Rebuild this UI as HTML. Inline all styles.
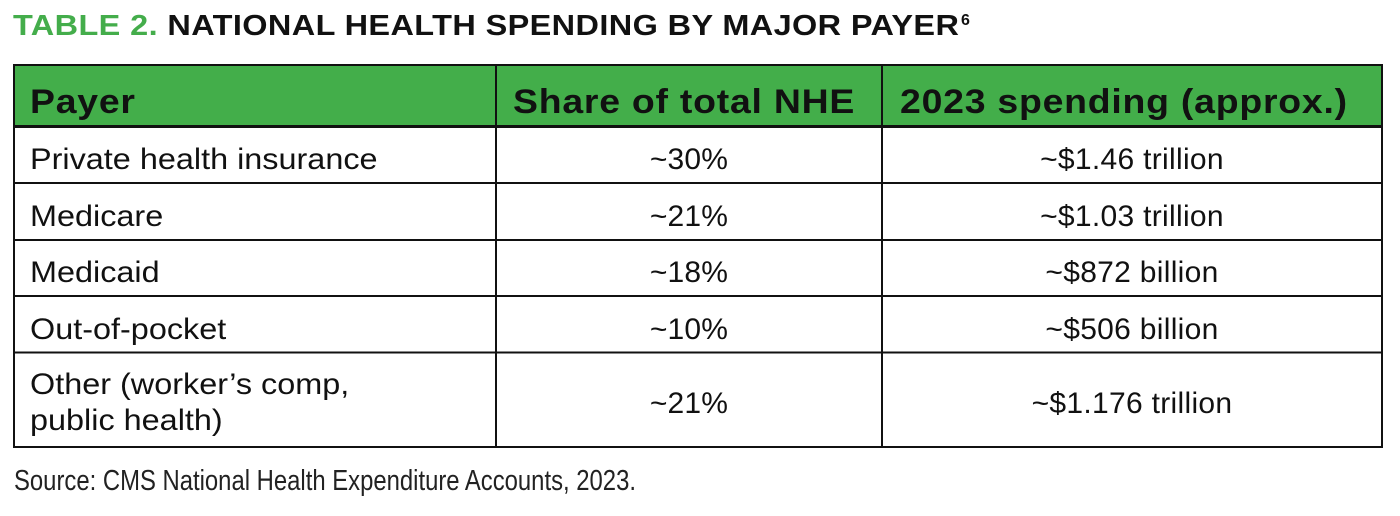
<!DOCTYPE html>
<html>
<head>
<meta charset="utf-8">
<style>
  html,body{margin:0;padding:0;background:#fff;}
  body{width:1400px;height:516px;overflow:hidden;}
  svg{display:block;}
  text{font-family:"Liberation Sans", Arial, sans-serif;fill:#111;}
  .t{font-weight:bold;font-size:29px;letter-spacing:0.35px;}
  .h{font-weight:bold;font-size:34px;letter-spacing:0.7px;}
  .b1{font-size:30px;letter-spacing:0px;}
  .b2{font-size:30px;letter-spacing:0.2px;}
  .b3{font-size:30px;letter-spacing:0.3px;}
  .src{font-size:29px;fill:#222;}
</style>
</head>
<body>
<svg width="1400" height="516" viewBox="0 0 1400 516" xmlns="http://www.w3.org/2000/svg">
  <rect x="0" y="0" width="1400" height="516" fill="#fff"/>
  <!-- Title -->
  <text class="t" transform="translate(13,35) scale(1.12,1)"><tspan style="fill:#44ad4b">TABLE 2.</tspan> NATIONAL HEALTH SPENDING BY MAJOR PAYER</text>
  <text x="961" y="25" style="font-weight:bold;font-size:16px;">6</text>

  <!-- Header background -->
  <rect x="14" y="65" width="1368" height="62" fill="#43ae4a"/>

  <!-- Grid lines -->
  <g stroke="#111" stroke-width="2" fill="none">
    <rect x="14" y="65" width="1368" height="382"/>
    <line x1="14" y1="126.5" x2="1382" y2="126.5" stroke-width="3"/>
    <line x1="14" y1="183" x2="1382" y2="183"/>
    <line x1="14" y1="240" x2="1382" y2="240"/>
    <line x1="14" y1="296" x2="1382" y2="296"/>
    <line x1="14" y1="352.5" x2="1382" y2="352.5"/>
    <line x1="496" y1="65" x2="496" y2="447"/>
    <line x1="882" y1="65" x2="882" y2="447"/>
  </g>

  <!-- Header text -->
  <text class="h" transform="translate(30,113) scale(1.1,1)">Payer</text>
  <text class="h" transform="translate(513,113) scale(1.1,1)">Share of total NHE</text>
  <text class="h" transform="translate(900,113) scale(1.1,1)">2023 spending (approx.)</text>

  <!-- Column 1 -->
  <text class="b1" transform="translate(30,169) scale(1.08,1)">Private health insurance</text>
  <text class="b1" transform="translate(30,226) scale(1.08,1)">Medicare</text>
  <text class="b1" transform="translate(30,282) scale(1.08,1)">Medicaid</text>
  <text class="b1" transform="translate(30,339) scale(1.08,1)">Out-of-pocket</text>
  <text class="b1" transform="translate(30,394) scale(1.08,1)">Other (worker’s comp,</text>
  <text class="b1" transform="translate(30,430) scale(1.08,1)">public health)</text>

  <!-- Column 2 -->
  <g text-anchor="middle">
    <text class="b2" x="689" y="169">~30%</text>
    <text class="b2" x="689" y="226">~21%</text>
    <text class="b2" x="689" y="282">~18%</text>
    <text class="b2" x="689" y="339">~10%</text>
    <text class="b2" x="689" y="413">~21%</text>
  </g>

  <!-- Column 3 -->
  <g text-anchor="middle">
    <text class="b3" x="1132" y="169">~$1.46 trillion</text>
    <text class="b3" x="1132" y="226">~$1.03 trillion</text>
    <text class="b3" x="1132" y="282">~$872 billion</text>
    <text class="b3" x="1132" y="339">~$506 billion</text>
    <text class="b3" x="1132" y="413">~$1.176 trillion</text>
  </g>

  <!-- Source -->
  <text class="src" transform="translate(14,490) scale(0.823,1)">Source: CMS National Health Expenditure Accounts, 2023.</text>
</svg>
</body>
</html>
